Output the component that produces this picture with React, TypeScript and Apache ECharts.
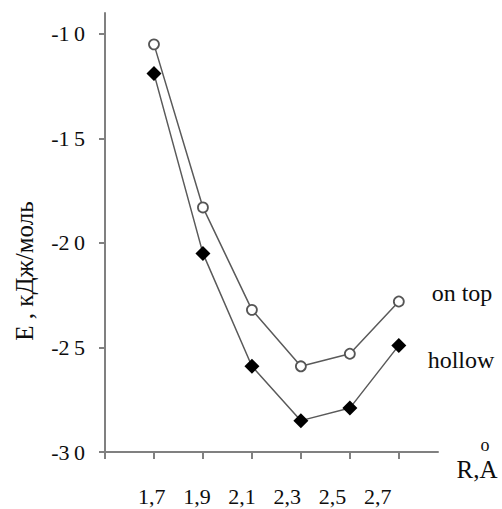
import React, { useEffect, useRef } from "react";
import * as echarts from "echarts";

const xValues = [1.7, 1.9, 2.1, 2.3, 2.5, 2.7];
const onTop = [-10.5, -18.3, -23.2, -25.9, -25.3, -22.8];
const hollow = [-11.9, -20.5, -25.9, -28.5, -27.9, -24.9];
const xTickValues = [1.5, 1.7, 1.9, 2.1, 2.3, 2.5, 2.7];
const xLabelValues = [1.7, 1.9, 2.1, 2.3, 2.5, 2.7];
const yTickValues = [-30, -25, -20, -15, -10];
const yTitle = "Е , кДж/моль";
const seriesNames = ["on top", "hollow"];

const FAM = '"Liberation Serif"';
const TEXT = "#0d0d0d";
const AXIS = "#808080";

export default function App() {
  const ref = useRef<HTMLDivElement>(null);
  useEffect(() => {
    document.body.style.margin = "0";
    const chart = echarts.init(ref.current!, undefined, { renderer: "svg" });
    const fmt = (v: number) => v.toFixed(1).replace(".", ",");
    chart.setOption({
      animation: false,
      backgroundColor: "#fff",
      grid: { left: 105, right: 64, top: 13, bottom: 57 },
      xAxis: [
        {
          type: "value",
          min: 1.5,
          max: 2.86,
          axisLine: { show: true, onZero: false, lineStyle: { color: AXIS, width: 2 } },
          axisTick: { show: true, customValues: xTickValues, length: 7, lineStyle: { color: AXIS, width: 2 } },
          axisLabel: { show: false },
          splitLine: { show: false },
        },
        {
          type: "value",
          position: "bottom",
          min: 1.4934,
          max: 2.9668,
          axisLine: { show: false },
          axisTick: { show: false },
          splitLine: { show: false },
          axisLabel: {
            show: true,
            customValues: xLabelValues,
            formatter: (v: number) => fmt(v),
            margin: 33,
            fontFamily: FAM,
            fontSize: 22,
            color: TEXT,
          },
        },
      ],
      yAxis: {
        type: "value",
        min: -30,
        max: -9,
        axisLine: { show: true, onZero: false, lineStyle: { color: AXIS, width: 2 } },
        axisTick: { show: true, customValues: yTickValues, length: 6, lineStyle: { color: AXIS, width: 2 } },
        axisLabel: {
          show: true,
          customValues: yTickValues,
          formatter: (v: number) => {
            const s = String(Math.abs(v));
            return "-" + s[0] + "\u2009" + s.slice(1);
          },
          margin: 20,
          fontFamily: FAM,
          fontSize: 22,
          color: TEXT,
        },
        splitLine: { show: false },
      },
      series: [
        {
          name: seriesNames[0],
          type: "line",
          xAxisIndex: 0,
          data: xValues.map((x, i) => [x, onTop[i]]),
          symbol: "circle",
          symbolSize: 10,
          lineStyle: { color: "#5a5a5a", width: 1.5 },
          itemStyle: { color: "#fff", borderColor: "#555", borderWidth: 1.8 },
        },
        {
          name: seriesNames[1],
          type: "line",
          xAxisIndex: 0,
          data: xValues.map((x, i) => [x, hollow[i]]),
          symbol: "diamond",
          symbolSize: 15,
          lineStyle: { color: "#5a5a5a", width: 1.5 },
          itemStyle: { color: "#000", borderColor: "#000", borderWidth: 0 },
        },
      ],
      graphic: [
        {
          type: "text",
          x: 24,
          y: 271,
          rotation: Math.PI / 2,
          style: { text: yTitle, font: `25px ${FAM}`, fill: TEXT, align: "center", verticalAlign: "middle" },
        },
        {
          type: "text",
          x: 462,
          y: 293,
          style: { text: seriesNames[0], font: `24px ${FAM}`, fill: TEXT, align: "center", verticalAlign: "middle" },
        },
        {
          type: "text",
          x: 461,
          y: 360,
          style: { text: seriesNames[1], font: `24px ${FAM}`, fill: TEXT, align: "center", verticalAlign: "middle" },
        },
        {
          type: "text",
          x: 477,
          y: 469,
          style: { text: "R,A", font: `25px ${FAM}`, fill: TEXT, align: "center", verticalAlign: "middle" },
        },
        {
          type: "text",
          x: 485,
          y: 445,
          style: { text: "o", font: `18px ${FAM}`, fill: TEXT, align: "center", verticalAlign: "middle" },
        },
      ],
    });
    return () => chart.dispose();
  }, []);
  return <div ref={ref} style={{ width: 502, height: 509 }} />;
}
